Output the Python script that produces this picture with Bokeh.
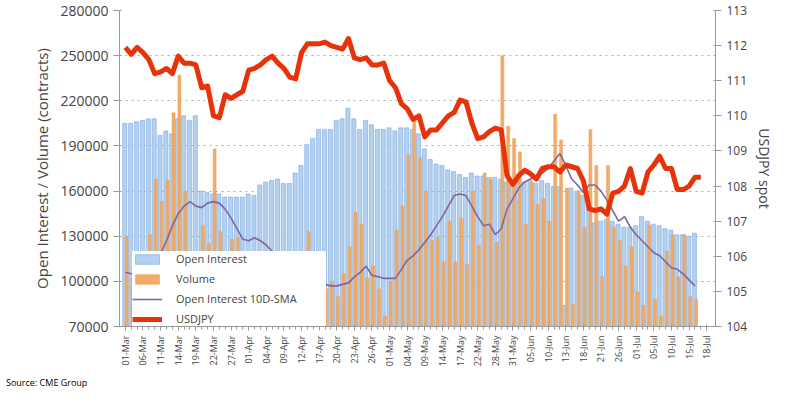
from bokeh.plotting import figure
from bokeh.models import Range1d, LinearAxis, FixedTicker, Legend, LegendItem, Div, NumeralTickFormatter
from bokeh.layouts import column
from bokeh.embed import file_html
from bokeh.resources import INLINE

tick_labels = ["01-Mar","06-Mar","11-Mar","14-Mar","19-Mar","22-Mar","27-Mar","01-Apr","04-Apr","09-Apr",
               "12-Apr","17-Apr","20-Apr","23-Apr","26-Apr","01-May","04-May","09-May","14-May","17-May",
               "22-May","28-May","31-May","05-Jun","10-Jun","13-Jun","18-Jun","21-Jun","26-Jun","01-Jul",
               "05-Jul","10-Jul","15-Jul","18-Jul"]

open_interest = [205,205,206,207,208,208,197,200,198,208,210,207,210,
    160,159,158,158,156,156,156,156,158,157,
    164,166,167,168,165,165,172,
    177,191,195,201,201,201,207,208,215,
    208,201,207,204,201,201,202,200,202,
    202,201,198,
    188,181,178,177,174,173,171,169,172,170,170,169,169,168,
    166,166,166,166,167,165,167,165,163,163,84,162,160,157,150,
    139,140,141,140,138,136,136,137,143,140,138,137,135,134,131,131,130,132]

volume = [130,102,95,100,131,168,153,167,212,237,160,120,110,137,125,188,133,110,128,129,
    105,100,110,100,95,100,110,100,95,100,105,133,110,100,95,100,90,105,123,146,
    138,102,110,95,77,100,134,150,184,208,182,160,127,129,113,140,113,142,111,160,
    124,172,168,126,250,203,195,186,138,166,151,155,140,211,194,162,85,160,136,201,
    177,103,177,136,127,110,123,93,84,137,88,77,120,131,103,131,90,88]

oi_sma = [106,105,104,103,104,110,118,127,137,145,150,153,150,149,152,153,152,148,142,135,
    128,127,129,127,124,120,116,112,108,105,103,101,100,99,98,97,97,98,99,103,
    106,110,104,103,102,102,102,108,114,117,121,126,131,137,143,150,157,158,157,150,
    143,137,138,131,135,148,155,162,166,168,170,172,175,180,185,177,168,164,159,164,
    164,160,154,147,140,143,136,131,127,123,119,117,113,109,108,105,101,97]

usdjpy = [111.95,111.75,111.95,111.8,111.6,111.2,111.25,111.35,111.2,111.7,111.5,111.5,111.45,110.8,110.85,
    110.0,109.95,110.6,110.5,110.6,110.7,111.3,111.35,111.45,111.6,111.7,111.5,111.35,111.1,111.05,
    111.8,112.05,112.05,112.05,112.1,112.0,111.95,111.9,112.2,111.65,111.6,111.65,111.45,111.45,111.5,
    111.0,110.8,110.35,110.2,109.9,110.0,109.4,109.6,109.6,109.8,110.0,110.1,110.45,110.4,109.8,
    109.35,109.4,109.55,109.65,109.6,108.3,108.05,108.3,108.45,108.35,108.2,108.5,108.55,108.55,108.4,
    108.6,108.55,108.5,108.15,107.35,107.3,107.35,107.2,107.8,107.85,108.0,108.5,107.85,107.8,108.4,
    108.6,108.85,108.5,108.5,107.9,107.9,108.0,108.25,108.25]

oi = [v * 1000 for v in open_interest]
vol = [v * 1000 for v in volume]
sma = [v * 1000 for v in oi_sma]
xb = [i - 0.1 for i in range(len(oi))]
xv = [i + 0.2 for i in range(len(vol))]
xs = list(range(len(sma)))
xu = list(range(len(usdjpy)))

FONT = "Open Sans"
p = figure(width=778, height=372, output_backend="svg", toolbar_location=None,
           x_range=Range1d(-1.0, 100.5), y_range=Range1d(70000, 280000),
           min_border_left=119, min_border_right=63, min_border_top=10, min_border_bottom=46)
p.extra_y_ranges = {"fx": Range1d(104, 113)}

r_oi = p.vbar(x=xb, top=oi, bottom=70000, width=0.7, fill_color="#B3D1F0", line_color="#7AA8DC", line_width=0.6)
r_vol = p.vbar(x=xv, top=vol, bottom=70000, width=0.5, fill_color="#F0A862", line_color="#E89C55", line_width=0.5, fill_alpha=0.95)
r_sma = p.line(xs, sma, line_color="#8064A2", line_width=1.6)
r_fx = p.line(xu, usdjpy, line_color="#E8320A", line_width=5, y_range_name="fx", line_join="round")

p.xgrid.visible = False
p.ygrid.grid_line_dash = "dotted"
p.ygrid.grid_line_color = "#aaaaaa"
p.outline_line_color = None

p.yaxis.ticker = FixedTicker(ticks=list(range(70000, 280001, 30000)))
p.yaxis.formatter = NumeralTickFormatter(format="0")
p.yaxis.axis_label = "Open Interest / Volume (contracts)"
p.yaxis.axis_label_text_font = FONT
p.yaxis.axis_label_text_font_style = "normal"
p.yaxis.axis_label_text_font_size = "15px"
p.yaxis.major_label_text_font = FONT
p.yaxis.major_label_text_font_size = "14px"

ax2 = LinearAxis(y_range_name="fx", ticker=FixedTicker(ticks=list(range(104, 114))),
                 axis_label="USDJPY spot")
ax2.axis_label_text_font = FONT
ax2.axis_label_text_font_style = "normal"
ax2.axis_label_text_font_size = "14px"
ax2.major_label_text_font = FONT
ax2.major_label_text_font_size = "12px"
p.add_layout(ax2, "right")

for ax in [p.yaxis[0], ax2]:
    ax.axis_line_color = "#999999"
    ax.major_tick_line_color = "#999999"
    ax.minor_tick_line_color = None

ticks = [3 * i for i in range(len(tick_labels))]
p.xaxis.ticker = FixedTicker(ticks=ticks, minor_ticks=list(range(0, 100)))
p.xaxis.major_label_overrides = {t: l for t, l in zip(ticks, tick_labels)}
p.xaxis.major_label_orientation = 1.5708
p.xaxis.major_label_text_font = FONT
p.xaxis.major_label_text_font_size = "9px"
p.xaxis.axis_line_color = "#999999"
p.xaxis.major_tick_line_color = "#999999"
p.xaxis.minor_tick_line_color = "#999999"
p.xaxis.major_tick_out = 4
p.xaxis.minor_tick_out = 3

legend = Legend(items=[LegendItem(label="Open Interest", renderers=[r_oi]),
                       LegendItem(label="Volume", renderers=[r_vol]),
                       LegendItem(label="Open Interest 10D-SMA", renderers=[r_sma]),
                       LegendItem(label="USDJPY", renderers=[r_fx])],
                location=(13, 0))
legend.label_text_font = FONT
legend.label_text_font_size = "11px"
legend.glyph_width = 30
legend.glyph_height = 12
legend.spacing = 5
legend.padding = 8
legend.margin = 0
legend.label_standoff = 14
legend.label_height = 12
legend.label_width = 150
legend.border_line_color = None
legend.background_fill_alpha = 1.0
p.add_layout(legend, "center")

src = Div(text="Source: CME Group", width=300, height=14,
          styles={"font-family": FONT, "font-size": "9px", "margin-left": "6px"})

layout = column(p, src, spacing=0)
open("out.html", "w").write(file_html(layout, INLINE))
